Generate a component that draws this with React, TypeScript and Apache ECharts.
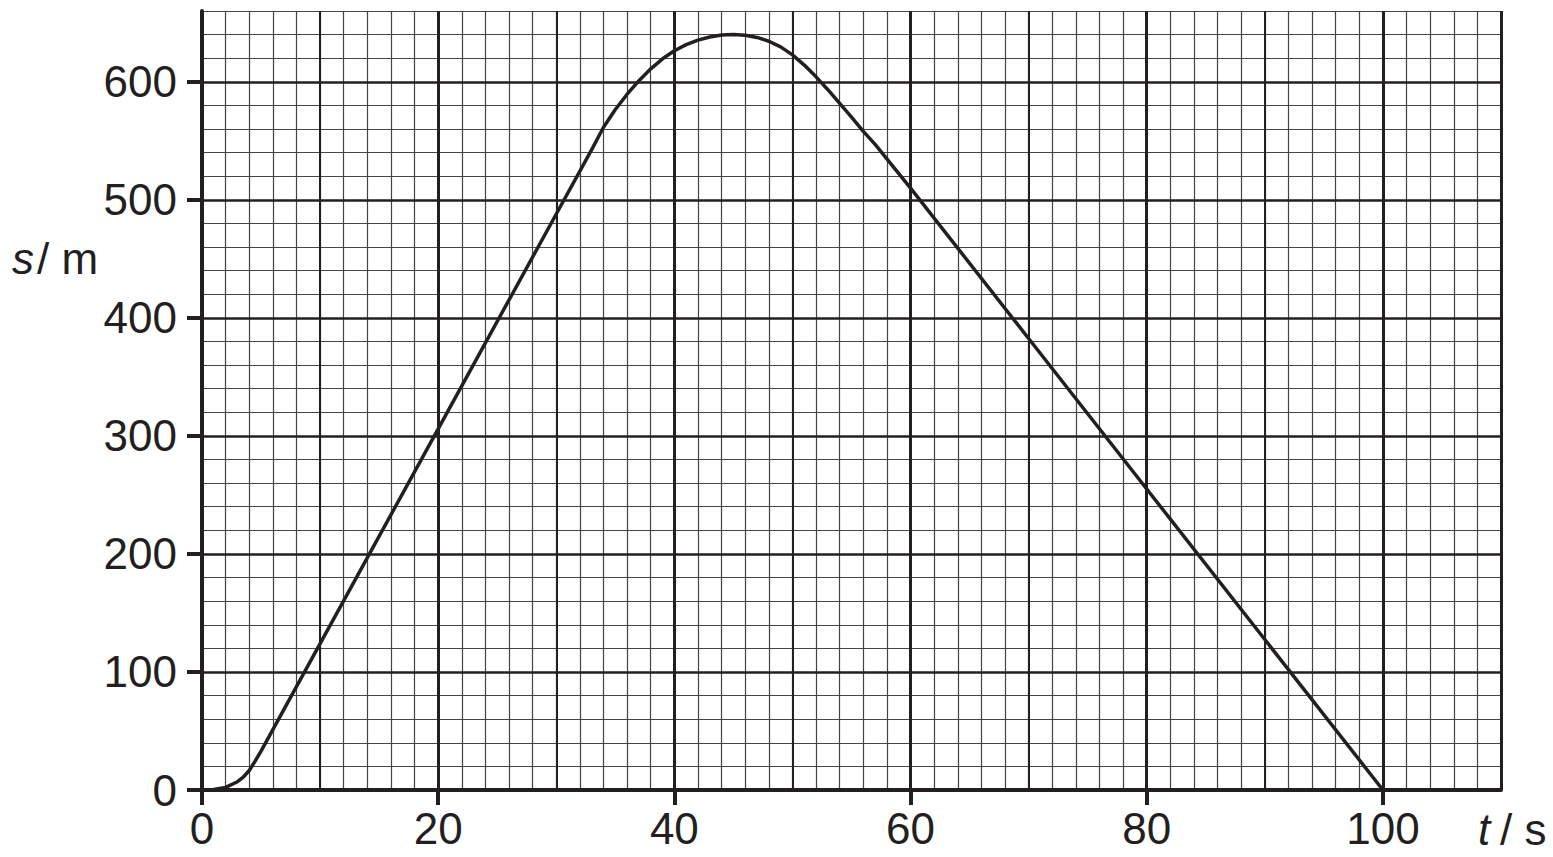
import {useEffect, useRef} from 'react';
import * as echarts from 'echarts';

// time in seconds
const tValues = [0, 1, 2, 3, 3.5, 4, 4.5, 5, 10, 20, 30, 33, 34, 35, 36, 37, 38, 39, 40, 41, 42, 43, 44, 45,
    46, 47, 48, 49, 50, 51, 52, 53, 54, 55, 56, 57, 60, 70, 80, 90, 100];
// distance in metres
const sValues = [0, 0.4, 2.2, 7, 11, 16.5, 24.5, 33, 124, 306, 488, 542.6, 561.5, 576.5, 589.5, 601, 611, 619.5,
    626.3, 631.5, 635.3, 638, 639.6, 640, 639.4, 637.6, 634.4, 629.6, 622.8, 614.2, 604.2, 593.3, 581.8, 570, 558,
    547, 510, 382.5, 255, 127.5, 0];

const xTicks = [0, 20, 40, 60, 80, 100];
const yTicks = [0, 100, 200, 300, 400, 500, 600];

const INK = '#231f20';
const FONT = '"Liberation Sans", Arial, Helvetica, sans-serif';

export default function App() {
    const ref = useRef<HTMLDivElement | null>(null);

    useEffect(() => {
        if (!ref.current) return;
        const chart = echarts.init(ref.current, null, {renderer: 'svg'});

        const hidden = {
            axisLine: {show: false},
            axisTick: {show: false},
            axisLabel: {show: false}
        };

        chart.setOption({
            animation: false,
            backgroundColor: '#fff',
            grid: {left: 202, right: 52, top: 11, bottom: 67, containLabel: false, outerBoundsMode: 'none'},
            xAxis: [
                {
                    type: 'value', min: 0, max: 110, interval: 10, position: 'bottom', z: 5,
                    axisLine: {show: true, onZero: false, lineStyle: {color: INK, width: 4}},
                    axisTick: {show: true, customValues: xTicks, length: 15, lineStyle: {color: INK, width: 4}},
                    axisLabel: {customValues: xTicks, fontSize: 44, color: INK, fontFamily: FONT, margin: 16},
                    splitLine: {show: false}
                },
                {
                    type: 'value', min: 0, max: 110, interval: 2, z: 0, ...hidden,
                    splitLine: {show: true, lineStyle: {color: '#444', width: 1.2}}
                },
                {
                    type: 'value', min: 0, max: 110, interval: 10, z: 1, ...hidden,
                    splitLine: {show: true, lineStyle: {color: INK, width: 2}}
                },
                {
                    type: 'value', min: 0, max: 110, interval: 20, z: 2, ...hidden,
                    splitLine: {show: true, showMinLine: false, lineStyle: {color: INK, width: 3}}
                }
            ],
            yAxis: [
                {
                    type: 'value', min: 0, max: 660, interval: 100, position: 'left', z: 5,
                    axisLine: {show: true, onZero: false, lineStyle: {color: INK, width: 4}},
                    axisTick: {show: true, customValues: yTicks, length: 15, lineStyle: {color: INK, width: 4}},
                    axisLabel: {customValues: yTicks, fontSize: 44, color: INK, fontFamily: FONT, margin: 25},
                    splitLine: {show: false}
                },
                {
                    type: 'value', min: 0, max: 660, interval: 20, z: 0, ...hidden,
                    splitLine: {show: true, lineStyle: {color: '#444', width: 1.2}}
                },
                {
                    type: 'value', min: 0, max: 660, interval: 100, z: 1, ...hidden,
                    splitLine: {show: true, showMinLine: false, showMaxLine: false, lineStyle: {color: INK, width: 2.5}}
                }
            ],
            series: [
                {
                    type: 'line',
                    xAxisIndex: 0,
                    yAxisIndex: 0,
                    data: tValues.map((t, i) => [t, sValues[i]]),
                    showSymbol: false,
                    smooth: false,
                    z: 4,
                    lineStyle: {color: INK, width: 3.5, join: 'round', cap: 'round'}
                }
            ],
            graphic: [
                {type: 'text', x: 12, y: 258, style: {text: 's', fontSize: 44, fontStyle: 'italic', fontFamily: FONT, fill: INK, verticalAlign: 'middle'}},
                {type: 'text', x: 37, y: 258, style: {text: '/ m', fontSize: 44, fontFamily: FONT, fill: INK, verticalAlign: 'middle'}},
                {type: 'text', x: 1478, y: 829, style: {text: 't', fontSize: 44, fontStyle: 'italic', fontFamily: FONT, fill: INK, verticalAlign: 'middle'}},
                {type: 'text', x: 1500, y: 829, style: {text: '/ s', fontSize: 44, fontFamily: FONT, fill: INK, verticalAlign: 'middle'}}
            ]
        });

        return () => chart.dispose();
    }, []);

    return <div ref={ref} style={{position: 'fixed', left: 0, top: 0, width: 1553, height: 857}}/>;
}
